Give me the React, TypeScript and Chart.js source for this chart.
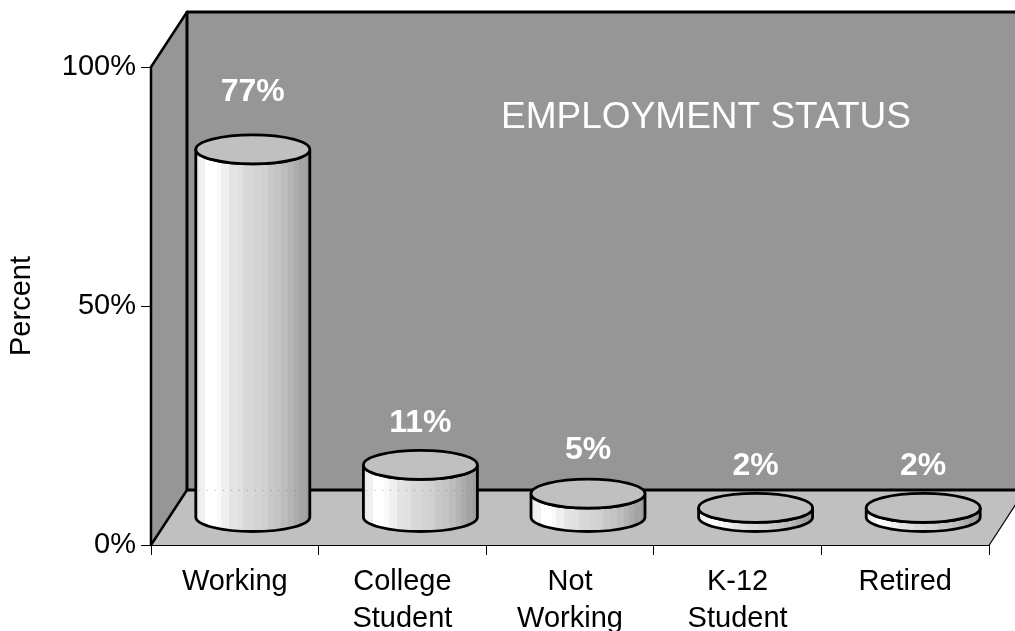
import React, { useEffect, useRef } from "react";
import { Chart, registerables } from "chart.js";

Chart.register(...registerables);

const categories = [["Working"], ["College", "Student"], ["Not", "Working"], ["K-12", "Student"], ["Retired"]];
const percentValues = [77, 11, 5, 2, 2];
const valueLabels = ["77%", "11%", "5%", "2%", "2%"];
const chartHeading = "EMPLOYMENT STATUS";
const axisTitle = "Percent";

// Oblique projection of the box: how far the back plane sits from the front plane.
const DEPTH_X = 36;
const DEPTH_Y = 55;
const CYLINDER_RX = 57;
const CYLINDER_RY = 14.5;
const LABEL_LIFT = [57, 42, 43, 42, 42];
const FONT = '"Liberation Sans", Arial, sans-serif';

// Facets across a cylinder, left to right: [shade, relative width].
const FACETS: [string, number][] = [
  ["#e8e8e8", 8], ["#f0f0f0", 20], ["#ffffff", 32], ["#fafafa", 13], ["#f0f0f0", 23], ["#e4e4e4", 22],
  ["#e0e0e0", 20], ["#d8d8d8", 30], ["#d4d4d4", 20], ["#d0d0d0", 20], ["#c8c8c8", 20], ["#c4c4c4", 20],
  ["#bcbcbc", 20], ["#b4b4b4", 15], ["#acacac", 15], ["#a4a4a4", 20], ["#9c9c9c", 12],
];

const cylinderPlugin = {
  id: "cylinderBox",
  beforeDatasetsDraw(chart: any) {
    const { ctx, chartArea: a } = chart;
    const { left, right, top, bottom } = a;
    ctx.save();
    // back wall
    ctx.fillStyle = "#969696";
    ctx.fillRect(left + DEPTH_X, top - DEPTH_Y, right - left + 10, bottom - top);
    // side wall
    ctx.beginPath();
    ctx.moveTo(left, top);
    ctx.lineTo(left + DEPTH_X, top - DEPTH_Y);
    ctx.lineTo(left + DEPTH_X, bottom - DEPTH_Y);
    ctx.lineTo(left, bottom);
    ctx.closePath();
    ctx.fill();
    // floor
    ctx.fillStyle = "#c0c0c0";
    ctx.beginPath();
    ctx.moveTo(left, bottom);
    ctx.lineTo(left + DEPTH_X, bottom - DEPTH_Y);
    ctx.lineTo(right + DEPTH_X, bottom - DEPTH_Y);
    ctx.lineTo(right, bottom);
    ctx.closePath();
    ctx.fill();
    // box edges
    ctx.strokeStyle = "#000";
    ctx.lineCap = "round";
    ctx.lineJoin = "round";
    ctx.lineWidth = 2.5;
    ctx.beginPath();
    ctx.moveTo(left, bottom);
    ctx.lineTo(left, top);
    ctx.lineTo(left + DEPTH_X, top - DEPTH_Y);
    ctx.moveTo(left + DEPTH_X, bottom - DEPTH_Y);
    ctx.lineTo(left, bottom);
    ctx.stroke();
    ctx.lineWidth = 3;
    ctx.beginPath();
    ctx.moveTo(right + DEPTH_X, top - DEPTH_Y);
    ctx.lineTo(left + DEPTH_X, top - DEPTH_Y);
    ctx.lineTo(left + DEPTH_X, bottom - DEPTH_Y);
    ctx.lineTo(right + DEPTH_X, bottom - DEPTH_Y);
    ctx.stroke();
    ctx.lineWidth = 1.2;
    ctx.beginPath();
    ctx.moveTo(left, bottom + 0.5);
    ctx.lineTo(right, bottom + 0.5);
    ctx.lineTo(right + DEPTH_X, bottom - DEPTH_Y);
    ctx.stroke();
    // heading on the back wall
    ctx.fillStyle = "#ffffff";
    ctx.font = `37px ${FONT}`;
    ctx.textAlign = "center";
    ctx.textBaseline = "alphabetic";
    ctx.fillText(chartHeading, 706, 128);
    ctx.restore();
  },
  afterDatasetsDraw(chart: any) {
    const { ctx, chartArea: a } = chart;
    const bars = chart.getDatasetMeta(0).data;
    const totalWidth = FACETS.reduce((sum, f) => sum + f[1], 0);
    bars.forEach((bar: any, i: number) => {
      const cx = bar.x + DEPTH_X / 2;
      const yTop = bar.y - DEPTH_Y / 2;
      const yBase = bar.base - DEPTH_Y / 2;
      const x0 = cx - CYLINDER_RX;
      ctx.save();
      const grad = ctx.createLinearGradient(x0, 0, cx + CYLINDER_RX, 0);
      let run = 0;
      FACETS.forEach(([shade, width]) => {
        grad.addColorStop(run / totalWidth, shade);
        run += width;
        grad.addColorStop(run / totalWidth, shade);
      });
      const outline = () => {
        ctx.beginPath();
        ctx.moveTo(x0, yTop);
        ctx.lineTo(x0, yBase);
        ctx.ellipse(cx, yBase, CYLINDER_RX, CYLINDER_RY, 0, Math.PI, 0, true);
        ctx.lineTo(cx + CYLINDER_RX, yTop);
        ctx.ellipse(cx, yTop, CYLINDER_RX, CYLINDER_RY, 0, 0, Math.PI, false);
        ctx.closePath();
      };
      outline();
      ctx.fillStyle = grad;
      ctx.fill();
      // faint trace of the wall's base line through the taller cylinders
      const wallLine = a.bottom - DEPTH_Y + 0.5;
      if (yTop < wallLine) {
        ctx.strokeStyle = "rgba(90,90,90,0.45)";
        ctx.lineWidth = 1;
        ctx.setLineDash([1, 7]);
        ctx.beginPath();
        ctx.moveTo(x0 + 3, wallLine);
        ctx.lineTo(cx + CYLINDER_RX - 3, wallLine);
        ctx.stroke();
        ctx.setLineDash([]);
      }
      ctx.strokeStyle = "#000";
      ctx.lineWidth = 2.8;
      outline();
      ctx.stroke();
      ctx.beginPath();
      ctx.ellipse(cx, yTop, CYLINDER_RX, CYLINDER_RY, 0, 0, Math.PI * 2);
      ctx.fillStyle = "#c0c0c0";
      ctx.fill();
      ctx.stroke();
      ctx.fillStyle = "#ffffff";
      ctx.font = `bold 32px ${FONT}`;
      ctx.textAlign = "center";
      ctx.textBaseline = "middle";
      ctx.fillText(valueLabels[i], cx, yTop - LABEL_LIFT[i]);
      ctx.restore();
    });
  },
};

export default function App() {
  const ref = useRef<HTMLCanvasElement>(null);
  useEffect(() => {
    const chart = new Chart(ref.current!, {
      type: "bar",
      data: {
        labels: categories,
        datasets: [{ label: axisTitle, data: percentValues, backgroundColor: "rgba(0,0,0,0)", borderWidth: 0 }],
      },
      plugins: [cylinderPlugin],
      options: {
        responsive: false,
        animation: false,
        layout: { padding: { top: 67, right: 26, left: 0, bottom: 0 } },
        plugins: { legend: { display: false }, title: { display: false }, tooltip: { enabled: false } },
        scales: {
          x: {
            afterFit: (s: any) => { s.height = 86; },
            border: { display: false },
            grid: { drawOnChartArea: false, drawTicks: true, tickLength: 10, color: "#000", lineWidth: 1 },
            ticks: {
              color: "#000",
              maxRotation: 0,
              autoSkip: false,
              padding: 8,
              font: { family: FONT, size: 29, lineHeight: 37 / 29 },
            },
          },
          y: {
            min: 0,
            max: 100,
            afterFit: (s: any) => { s.width = 151; },
            border: { display: false },
            grid: { drawOnChartArea: false, drawTicks: true, tickLength: 10, color: "#000", lineWidth: 1 },
            title: { display: true, text: axisTitle, color: "#000", padding: { top: 5, bottom: 0 }, font: { family: FONT, size: 29 } },
            ticks: {
              stepSize: 50,
              color: "#000",
              padding: 5,
              callback: (v: any) => `${v}%`,
              font: { family: FONT, size: 29 },
            },
          },
        },
      },
    } as any);
    return () => chart.destroy();
  }, []);
  return (
    <div style={{ position: "absolute", left: 0, top: 0, width: 1015, height: 631, overflow: "hidden", background: "#fff" }}>
      <canvas ref={ref} width={1015} height={631} style={{ display: "block" }} />
    </div>
  );
}
